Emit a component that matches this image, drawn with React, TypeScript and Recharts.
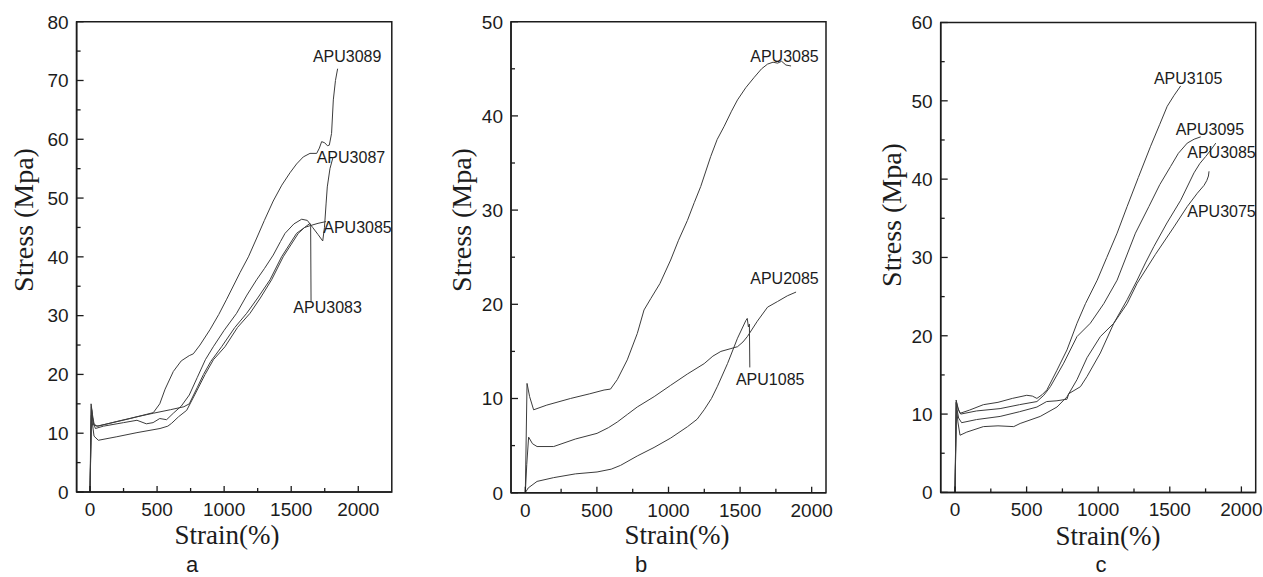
import React from 'react';
import { LineChart, Line, XAxis, YAxis, ReferenceArea, ReferenceDot } from 'recharts';

type Pt = [number, number];

// ---------- tick values ----------
const xTicks = [0, 250, 500, 750, 1000, 1250, 1500, 1750, 2000];
const yTicksA = [0, 5, 10, 15, 20, 25, 30, 35, 40, 45, 50, 55, 60, 65, 70, 75, 80];
const yTicksB = [0, 5, 10, 15, 20, 25, 30, 35, 40, 45, 50];
const yTicksC = [0, 5, 10, 15, 20, 25, 30, 35, 40, 45, 50, 55, 60];

// ---------- panel a ----------
const a3089: Pt[] = [
  [0, 0], [8, 15], [18, 13.2], [30, 11.6], [50, 11.2], [150, 11.7], [300, 12.5], [420, 13.2], [472, 13.5],
  [520, 15], [560, 17.5], [621, 20.5], [680, 22.3], [740, 23.2], [770, 23.5], [820, 25], [894, 27.6],
  [960, 30.2], [1019, 32.8], [1118, 37.3], [1181, 40], [1243, 43.2], [1300, 46.2], [1366, 49.5],
  [1430, 52.2], [1491, 54.3], [1540, 55.8], [1590, 57], [1640, 57.6], [1690, 57.6], [1710, 58.5],
  [1727, 59.6], [1750, 59.4], [1770, 58.9], [1784, 59], [1801, 61], [1814, 66.7], [1830, 70], [1846, 72],
];
const a3087: Pt[] = [
  [0, 0], [10, 14.5], [22, 12], [40, 10.8], [100, 11.2], [250, 11.8], [350, 12.2], [420, 11.6], [470, 11.8],
  [520, 12.5], [571, 12.3], [621, 13.4], [680, 14.6], [740, 16.5], [800, 19.5], [860, 22.5], [919, 24.7],
  [1000, 27.5], [1093, 30.4], [1170, 33.5], [1242, 36.1], [1300, 38], [1366, 40.3], [1420, 42.6],
  [1454, 44], [1520, 45.6], [1578, 46.4], [1620, 46.2], [1660, 45], [1700, 43.8], [1735, 42.7],
  [1748, 45], [1760, 49], [1769, 51.9], [1789, 55], [1810, 56.8],
];
const a3085: Pt[] = [
  [0, 0], [12, 14], [25, 11.4], [60, 11.2], [200, 12], [350, 12.8], [472, 13.4], [600, 14], [700, 14.5],
  [740, 15], [800, 17.8], [846, 20], [900, 22.2], [981, 24.7], [1080, 28], [1168, 30.4], [1250, 33],
  [1342, 36.1], [1428, 40], [1540, 44], [1600, 45], [1640, 45.3], [1700, 45.7], [1760, 46],
];
const a3083: Pt[] = [
  [0, 0], [10, 13], [30, 9.5], [62, 8.8], [200, 9.4], [350, 10.1], [522, 10.8], [580, 11.2], [609, 11.7],
  [660, 12.8], [721, 13.9], [780, 16.5], [858, 20], [920, 22.5], [1006, 24.7], [1100, 28], [1193, 30.4],
  [1270, 33], [1354, 36.1], [1440, 40], [1553, 44], [1600, 45], [1640, 45.7], [1645, 45.2], [1648, 32.4],
];

// ---------- panel b ----------
const b3085: Pt[] = [
  [0, 0], [12, 11.6], [30, 10.2], [58, 8.8], [150, 9.3], [315, 10], [450, 10.5], [550, 10.9], [595, 11],
  [642, 12], [712, 14.1], [782, 16.9], [829, 19.4], [876, 20.6], [940, 22.2], [1015, 24.7], [1070, 26.8],
  [1132, 28.9], [1180, 30.8], [1225, 32.5], [1295, 35.7], [1340, 37.5], [1389, 38.9], [1440, 40.5],
  [1482, 41.7], [1540, 43], [1599, 44.1], [1650, 45], [1692, 45.5], [1730, 45.7], [1762, 45.6],
  [1790, 45.8], [1820, 45.4], [1856, 45.3],
];
const b2085: Pt[] = [
  [0, 0], [10, 3], [23, 5.9], [50, 5.2], [82, 4.9], [198, 4.9], [350, 5.7], [501, 6.3], [580, 6.9],
  [642, 7.5], [712, 8.3], [782, 9.1], [900, 10.2], [1015, 11.4], [1132, 12.6], [1249, 13.7], [1310, 14.5],
  [1366, 15], [1436, 15.3], [1482, 15.5], [1520, 16], [1552, 16.6], [1620, 18.2], [1692, 19.7],
  [1762, 20.3], [1830, 20.9], [1891, 21.3],
];
const b1085: Pt[] = [
  [0, 0], [20, 0.5], [82, 1.2], [198, 1.6], [350, 2], [501, 2.2], [600, 2.5], [665, 2.9], [782, 3.9],
  [899, 4.8], [1015, 5.8], [1132, 7], [1200, 7.8], [1249, 8.8], [1300, 10], [1342, 11.3], [1412, 13.7],
  [1482, 16.4], [1541, 18.3], [1550, 18.5], [1558, 17.6], [1565, 17.9], [1568, 13.3],
];

// ---------- panel c ----------
const c3105: Pt[] = [
  [0, 0], [8, 11.8], [20, 10.8], [35, 10.1], [100, 10.5], [198, 11.2], [300, 11.5], [400, 12], [501, 12.4],
  [540, 12.3], [572, 12], [610, 12.5], [642, 13.1], [712, 15.6], [782, 18.2], [852, 21.6], [911, 24.1],
  [993, 27.1], [1060, 30], [1132, 33.1], [1202, 36.5], [1280, 40.2], [1366, 44.2], [1430, 47],
  [1482, 49.3], [1530, 50.7], [1576, 51.9],
];
const c3095: Pt[] = [
  [0, 0], [10, 11.5], [25, 10.5], [40, 10], [150, 10.4], [315, 10.7], [450, 11.2], [572, 11.6], [620, 12.4],
  [666, 13.5], [759, 16.5], [852, 19.9], [945, 21.6], [1039, 24.1], [1132, 27.1], [1260, 33.1],
  [1354, 36.5], [1430, 39.3], [1505, 41.6], [1560, 43.3], [1622, 44.6], [1670, 45.1], [1716, 45.4],
];
const c3085: Pt[] = [
  [0, 0], [10, 11], [25, 9.5], [46, 8.9], [150, 9.3], [315, 9.7], [450, 10.3], [572, 10.9], [640, 11.6],
  [712, 11.7], [782, 11.9], [794, 12.6], [876, 13.5], [922, 14.8], [1015, 17.8], [1109, 21.6],
  [1202, 24.6], [1272, 27.1], [1330, 29.3], [1389, 31.4], [1480, 34.4], [1576, 37.3], [1669, 40.8],
  [1710, 42], [1751, 42.9], [1790, 43.8], [1821, 44.6],
];
const c3075: Pt[] = [
  [0, 0], [8, 11.5], [20, 9], [35, 7.3], [82, 7.7], [198, 8.4], [300, 8.5], [410, 8.4], [455, 8.8],
  [595, 9.7], [712, 10.9], [782, 12.2], [852, 14.4], [922, 17.2], [1015, 19.9], [1109, 21.6],
  [1202, 24.1], [1272, 26.7], [1400, 30.4], [1529, 33.9], [1622, 36.5], [1692, 38.2], [1739, 39.2],
  [1758, 39.8], [1770, 40.4], [1774, 41],
];

// ---------- curve labels (text anchor point, data coords) ----------
type Lbl = { name: string; x: number; y: number };
const labelsA: Lbl[] = [
  { name: 'APU3089', x: 1662, y: 73.2 },
  { name: 'APU3087', x: 1690, y: 55.9 },
  { name: 'APU3085', x: 1739, y: 44.0 },
  { name: 'APU3083', x: 1516, y: 30.4 },
];
const labelsB: Lbl[] = [
  { name: 'APU3085', x: 1571, y: 45.75 },
  { name: 'APU2085', x: 1571, y: 22.2 },
  { name: 'APU1085', x: 1471, y: 11.4 },
];
const labelsC: Lbl[] = [
  { name: 'APU3105', x: 1389, y: 52.2 },
  { name: 'APU3095', x: 1541, y: 45.6 },
  { name: 'APU3085', x: 1622, y: 42.7 },
  { name: 'APU3075', x: 1622, y: 35.2 },
];

const INK = '#1c1c1c';
const CURVE = '#3c3c3c';
const SANS = "'Liberation Sans', Arial, Helvetica, sans-serif";
const SERIF = "'Liberation Serif', 'Times New Roman', 'DejaVu Serif', serif";

const toObj = (pts: Pt[]) => pts.map(([x, y]) => ({ x, y }));

const XTick = (props: any) => {
  const { x, y, payload } = props;
  const v = payload.value as number;
  const major = v % 500 === 0;
  return (
    <g>
      <line x1={x} x2={x} y1={y} y2={y - (major ? 6 : 4)} stroke={INK} strokeWidth={1.3} />
      {major && (
        <text x={x} y={y + 24} textAnchor="middle" fontFamily={SANS} fontSize={19} fill={INK}>
          {v}
        </text>
      )}
    </g>
  );
};

const YTick = (props: any) => {
  const { x, y, payload } = props;
  const v = payload.value as number;
  const major = v % 10 === 0;
  return (
    <g>
      <line x1={x} x2={x + (major ? 7 : 4)} y1={y} y2={y} stroke={INK} strokeWidth={1.3} />
      {major && (
        <text x={x - 8} y={y} dy="0.36em" textAnchor="end" fontFamily={SANS} fontSize={19} fill={INK}>
          {v}
        </text>
      )}
    </g>
  );
};

type PanelProps = {
  left: number;
  width: number;
  plotLeft: number;
  plotRight: number;
  plotTop: number;
  plotBottom: number;
  xDomain: [number, number];
  yMax: number;
  yTicks: number[];
  series: Pt[][];
  labels: Lbl[];
};

const Panel = (p: PanelProps) => (
  <div style={{ position: 'absolute', left: p.left, top: 0, width: p.width, height: 577 }}>
    <LineChart
      width={p.width}
      height={577}
      margin={{ top: p.plotTop, right: p.width - p.plotRight, left: 0, bottom: 0 }}
    >
      <XAxis
        type="number"
        dataKey="x"
        domain={p.xDomain}
        allowDataOverflow
        ticks={xTicks}
        interval={0}
        height={577 - p.plotBottom}
        tickSize={0}
        tickMargin={0}
        tick={(tp: any) => <XTick {...tp} />}
        axisLine={{ stroke: INK, strokeWidth: 1.5 }}
        tickLine={false}
      />
      <YAxis
        type="number"
        domain={[0, p.yMax]}
        allowDataOverflow
        ticks={p.yTicks}
        interval={0}
        width={p.plotLeft}
        tickSize={0}
        tickMargin={0}
        tick={(tp: any) => <YTick {...tp} />}
        axisLine={{ stroke: INK, strokeWidth: 1.5 }}
        tickLine={false}
      />
      <ReferenceArea
        x1={p.xDomain[0]}
        x2={p.xDomain[1]}
        y1={0}
        y2={p.yMax}
        fill="none"
        stroke={INK}
        strokeWidth={1.5}
        ifOverflow="visible"
      />
      {p.series.map((s, i) => (
        <Line
          key={i}
          data={toObj(s)}
          dataKey="y"
          type="linear"
          stroke={CURVE}
          strokeWidth={1}
          dot={false}
          activeDot={false}
          isAnimationActive={false}
        />
      ))}
      {p.labels.map((l, i) => (
        <ReferenceDot
          key={'l' + i}
          x={l.x}
          y={l.y}
          r={0}
          ifOverflow="visible"
          shape={(sp: any) => (
            <text x={sp.cx} y={sp.cy} fontFamily={SANS} fontSize={16} fill={INK}>
              {l.name}
            </text>
          )}
        />
      ))}
    </LineChart>
  </div>
);

// titles: centre points (px); letters: baseline points
const yTitles = [
  { x: 23, y: 220 },
  { x: 461, y: 220 },
  { x: 891, y: 215 },
];
const xTitles = [
  { x: 227, y: 535 },
  { x: 677, y: 535 },
  { x: 1108, y: 536 },
];
const letters = [
  { t: 'a', x: 192, y: 572 },
  { t: 'b', x: 641, y: 572 },
  { t: 'c', x: 1101, y: 572 },
];

export default function App() {
  return (
    <div style={{ position: 'absolute', left: 0, top: 0, width: 1263, height: 577, background: '#fff', overflow: 'hidden' }}>
      <Panel
        left={0}
        width={420}
        plotLeft={76.6}
        plotRight={391.8}
        plotTop={21.7}
        plotBottom={492}
        xDomain={[-100, 2250]}
        yMax={80}
        yTicks={yTicksA}
        series={[a3089, a3087, a3085, a3083]}
        labels={labelsA}
      />
      <Panel
        left={420}
        width={420}
        plotLeft={91}
        plotRight={406}
        plotTop={21.7}
        plotBottom={492.7}
        xDomain={[-100, 2100]}
        yMax={50}
        yTicks={yTicksB}
        series={[b3085, b2085, b1085]}
        labels={labelsB}
      />
      <Panel
        left={840}
        width={423}
        plotLeft={100.7}
        plotRight={415.7}
        plotTop={22.5}
        plotBottom={492.4}
        xDomain={[-100, 2100]}
        yMax={60}
        yTicks={yTicksC}
        series={[c3105, c3095, c3085, c3075]}
        labels={labelsC}
      />
      <svg
        width={1263}
        height={577}
        style={{ position: 'absolute', left: 0, top: 0, pointerEvents: 'none' }}
      >
        {yTitles.map((t, i) => (
          <text
            key={'yt' + i}
            x={t.x}
            y={t.y}
            transform={`rotate(-90 ${t.x} ${t.y})`}
            textAnchor="middle"
            dominantBaseline="central"
            fontFamily={SERIF}
            fontSize={28}
            fill={INK}
          >
            Stress (Mpa)
          </text>
        ))}
        {xTitles.map((t, i) => (
          <text
            key={'xt' + i}
            x={t.x}
            y={t.y}
            textAnchor="middle"
            dominantBaseline="central"
            fontFamily={SERIF}
            fontSize={27}
            fill={INK}
          >
            Strain(%)
          </text>
        ))}
        {letters.map((t, i) => (
          <text
            key={'lt' + i}
            x={t.x}
            y={t.y}
            textAnchor="middle"
            fontFamily={SANS}
            fontSize={22}
            fill={INK}
          >
            {t.t}
          </text>
        ))}
      </svg>
    </div>
  );
}
